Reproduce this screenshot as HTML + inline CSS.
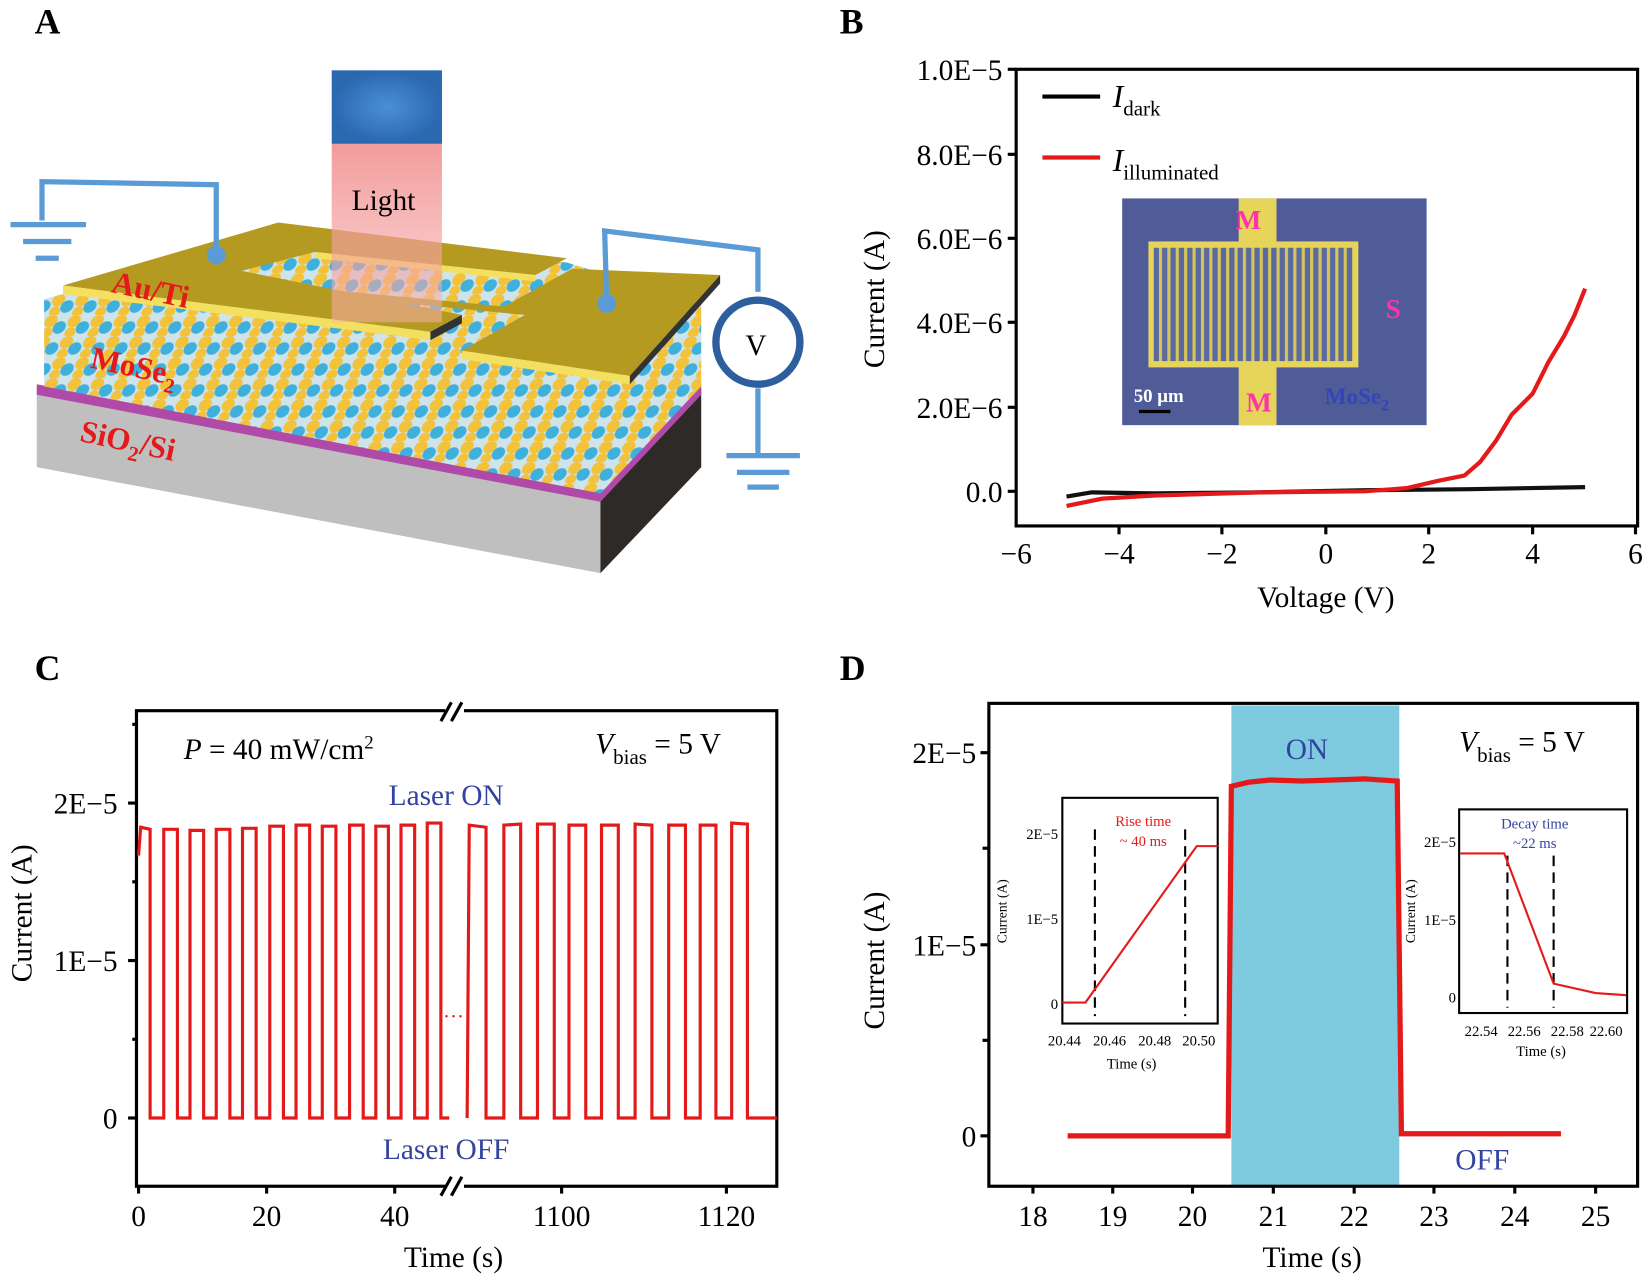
<!DOCTYPE html>
<html><head><meta charset="utf-8"><style>
body{margin:0;background:#fff}
svg{display:block}
text{font-family:"Liberation Serif",serif}
</style></head><body>
<svg width="1646" height="1276" viewBox="0 0 1568 1215.5" preserveAspectRatio="none" xmlns="http://www.w3.org/2000/svg">
<defs>
<pattern id="atoms" width="22" height="20" patternUnits="userSpaceOnUse" patternTransform="skewX(-20)">
<rect width="22" height="20" fill="#cfe3ea"/>
<circle cx="6" cy="6" r="6" fill="#f2c23a"/>
<circle cx="16" cy="12" r="6" fill="#3fb0dc"/>
<circle cx="6" cy="17" r="5" fill="#f2c23a"/>
</pattern>
<pattern id="comb" width="8" height="10" patternUnits="userSpaceOnUse">
<rect width="8" height="10" fill="#5a6aa0"/>
<rect x="0" width="3" height="10" fill="#d6c55a"/>
</pattern>
<linearGradient id="beam" x1="0" y1="0" x2="0" y2="1">
<stop offset="0" stop-color="#f08a8a"/><stop offset="1" stop-color="#f8b0b0" stop-opacity="0.6"/>
</linearGradient>
<radialGradient id="lamp"><stop offset="0" stop-color="#4a90d6"/><stop offset="1" stop-color="#2a68b0"/></radialGradient>
</defs>

<g font-weight="bold" font-size="34">
<text x="33" y="32">A</text><text x="800" y="32">B</text>
<text x="33" y="648">C</text><text x="800" y="648">D</text>
</g>

<!-- Panel A -->
<polygon points="35,372 35,445 572,546 572,470" fill="#bfbfbf"/>
<polygon points="572,470 572,546 668,445 668,370" fill="#2e2a28"/>
<polygon points="35,366 35,376 572,478 668,376 668,366 572,466" fill="#b04aa8"/>
<polygon points="42,285 42,368 572,470 668,368 668,290 540,250 260,225" fill="url(#atoms)"/>
<polygon points="60,272 265,212 540,246 510,262 300,240 230,258 440,300 410,316" fill="#b59a22"/>
<polygon points="60,272 60,280 410,324 410,316" fill="#f4e060"/>
<polygon points="410,316 410,324 440,308 440,300" fill="#333"/>
<polygon points="300,240 510,262 510,268 300,246" fill="#f4e060"/>
<polygon points="250,270 480,292 545,256 686,262 600,358 440,334 500,300 270,278" fill="#b59a22"/>
<polygon points="440,334 600,358 600,366 440,342" fill="#f4e060"/>
<polygon points="600,358 686,262 686,270 600,366" fill="#333"/>
<rect x="316" y="137" width="105" height="170" fill="url(#beam)" opacity="0.85"/>
<rect x="316" y="67" width="105" height="70" fill="url(#lamp)"/>
<text x="335" y="200" font-size="28">Light</text>
<g stroke="#5b9bd5" stroke-width="5" fill="none">
<polyline points="40,210 40,173 206,176 206,243"/>
<line x1="10" y1="214" x2="82" y2="214"/><line x1="22" y1="230" x2="68" y2="230"/><line x1="34" y1="246" x2="56" y2="246"/>
<polyline points="578,289 576,220 722,238 722,278"/>
<line x1="722" y1="370" x2="722" y2="432"/>
<line x1="692" y1="434" x2="762" y2="434"/><line x1="702" y1="450" x2="752" y2="450"/><line x1="712" y1="464" x2="742" y2="464"/>
</g>
<circle cx="206" cy="243" r="9" fill="#5b9bd5"/><circle cx="578" cy="289" r="9" fill="#5b9bd5"/>
<circle cx="722" cy="326" r="40" fill="#fff" stroke="#2d5e9e" stroke-width="7"/>
<text x="710" y="338" font-size="28">V</text>
<g fill="#e41a1a" font-weight="bold" font-size="30">
<text x="105" y="278" transform="rotate(12 105 278)">Au/Ti</text>
<text x="85" y="350" transform="rotate(12 85 350)">MoSe<tspan font-size="20" dy="8">2</tspan></text>
<text x="75" y="420" transform="rotate(12 75 420)">SiO<tspan font-size="20" dy="8">2</tspan><tspan dy="-8">/Si</tspan></text>
</g>

<!-- Panel B -->
<g stroke="#000" stroke-width="3" fill="none">
<rect x="968" y="66" width="592" height="435"/>
<line x1="968" y1="66" x2="960" y2="66"/><line x1="968" y1="147" x2="960" y2="147"/><line x1="968" y1="227" x2="960" y2="227"/><line x1="968" y1="307" x2="960" y2="307"/><line x1="968" y1="388" x2="960" y2="388"/><line x1="968" y1="468" x2="960" y2="468"/>
<line x1="1066" y1="501" x2="1066" y2="509"/><line x1="1164" y1="501" x2="1164" y2="509"/><line x1="1263" y1="501" x2="1263" y2="509"/><line x1="1361" y1="501" x2="1361" y2="509"/><line x1="1460" y1="501" x2="1460" y2="509"/><line x1="1558" y1="501" x2="1558" y2="509"/>
</g>
<g font-size="28" text-anchor="end">
<text x="955" y="76">1.0E−5</text><text x="955" y="157">8.0E−6</text><text x="955" y="237">6.0E−6</text><text x="955" y="317">4.0E−6</text><text x="955" y="398">2.0E−6</text><text x="955" y="478">0.0</text>
</g>
<g font-size="28" text-anchor="middle">
<text x="968" y="537">−6</text><text x="1066" y="537">−4</text><text x="1164" y="537">−2</text><text x="1263" y="537">0</text><text x="1361" y="537">2</text><text x="1460" y="537">4</text><text x="1558" y="537">6</text>
<text x="1263" y="578">Voltage (V)</text>
</g>
<text x="842" y="285" font-size="28" text-anchor="middle" transform="rotate(-90 842 285)">Current (A)</text>
<line x1="993" y1="92" x2="1048" y2="92" stroke="#000" stroke-width="4"/>
<line x1="993" y1="150" x2="1048" y2="150" stroke="#e41a1a" stroke-width="4"/>
<text x="1060" y="102" font-size="30" font-style="italic">I<tspan font-style="normal" font-size="20" dy="8">dark</tspan></text>
<text x="1060" y="163" font-size="30" font-style="italic">I<tspan font-style="normal" font-size="20" dy="8">illuminated</tspan></text>
<rect x="1069" y="189" width="290" height="216" fill="#4f5c98"/>
<rect x="1180" y="189" width="36" height="216" fill="#e7d45a"/>
<rect x="1094" y="230" width="200" height="120" fill="#e7d45a"/>
<rect x="1099" y="236" width="190" height="108" fill="url(#comb)"/>
<g fill="#ff33aa" font-weight="bold" font-size="26"><text x="1177" y="218">M</text><text x="1187" y="392">M</text><text x="1320" y="303">S</text></g>
<text x="1080" y="383" fill="#fff" font-family="Liberation Sans" font-weight="bold" font-size="18">50 μm</text>
<line x1="1085" y1="392" x2="1115" y2="392" stroke="#000" stroke-width="3"/>
<text x="1262" y="385" fill="#3344bb" font-weight="bold" font-size="22">MoSe<tspan font-size="15" dy="6">2</tspan></text>
<polyline points="1016,473 1040,469 1100,470 1200,469 1300,467 1400,466 1510,464" stroke="#111" stroke-width="4" fill="none"/>
<polyline points="1016,482 1050,475 1100,472 1200,469 1300,468 1340,465 1370,458 1395,453 1410,440 1425,420 1440,395 1460,375 1475,345 1490,320 1500,300 1510,275" stroke="#e41a1a" stroke-width="4" fill="none"/>

<!-- Panel C -->
<g stroke="#000" stroke-width="3" fill="none">
<rect x="130" y="677" width="610" height="453"/>
<line x1="130" y1="765" x2="122" y2="765"/><line x1="130" y1="915" x2="122" y2="915"/><line x1="130" y1="1065" x2="122" y2="1065"/>
<line x1="130" y1="690" x2="126" y2="690"/><line x1="130" y1="840" x2="126" y2="840"/><line x1="130" y1="990" x2="126" y2="990"/>
<line x1="132" y1="1130" x2="132" y2="1137"/><line x1="254" y1="1130" x2="254" y2="1137"/><line x1="376" y1="1130" x2="376" y2="1137"/><line x1="535" y1="1130" x2="535" y2="1137"/><line x1="692" y1="1130" x2="692" y2="1137"/>
</g>
<rect x="424" y="670" width="18" height="16" fill="#fff"/><rect x="424" y="1122" width="18" height="16" fill="#fff"/>
<g stroke="#000" stroke-width="3"><line x1="420" y1="687" x2="430" y2="669"/><line x1="430" y1="687" x2="440" y2="669"/><line x1="420" y1="1139" x2="430" y2="1121"/><line x1="430" y1="1139" x2="440" y2="1121"/></g>
<g font-size="28">
<text x="112" y="775" text-anchor="end">2E−5</text><text x="112" y="925" text-anchor="end">1E−5</text><text x="112" y="1075" text-anchor="end">0</text>
<g text-anchor="middle"><text x="132" y="1168">0</text><text x="254" y="1168">20</text><text x="376" y="1168">40</text><text x="535" y="1168">1100</text><text x="692" y="1168">1120</text><text x="432" y="1207">Time (s)</text></g>
<text x="175" y="723"><tspan font-style="italic">P</tspan> = 40 mW/cm<tspan font-size="18" dy="-10">2</tspan></text>
<text x="567" y="718"><tspan font-style="italic">V</tspan><tspan font-size="20" dy="10">bias</tspan><tspan dy="-10"> = 5 V</tspan></text>
<g fill="#3344a0" text-anchor="middle"><text x="425" y="767">Laser ON</text><text x="425" y="1104">Laser OFF</text></g>
</g>
<text x="30" y="870" font-size="28" text-anchor="middle" transform="rotate(-90 30 870)">Current (A)</text>
<text x="432" y="975" font-size="20" fill="#e41a1a" text-anchor="middle">···</text>
<polyline stroke="#e41a1a" stroke-width="3" fill="none" points="132,815 134,788 143,790 143,1065 156,1065 156,790 169,790 169,1065 181,1065 181,791 194,791 194,1065 206,1065 206,790 219,790 219,1065 231,1065 231,789 244,789 244,1065 257,1065 257,787 270,787 270,1065 282,1065 282,786 295,786 295,1065 307,1065 307,787 320,787 320,1065 333,1065 333,786 346,786 346,1065 358,1065 358,787 370,787 370,1065 382,1065 382,786 395,786 395,1065 407,1065 407,784 420,784 420,1065 428,1065"/>
<polyline stroke="#e41a1a" stroke-width="3" fill="none" points="445,1065 447,786 463,788 463,1065 480,1065 480,786 496,785 496,1065 512,1065 512,785 528,785 528,1065 542,1065 542,786 558,786 558,1065 573,1065 573,786 589,786 589,1065 605,1065 605,785 621,786 621,1065 637,1065 637,786 653,786 653,1065 667,1065 667,786 682,786 682,1065 697,1065 697,784 712,785 712,1065 740,1065"/>

<!-- Panel D -->
<rect x="1173" y="672" width="160" height="457" fill="#7ecbe0"/>
<g stroke="#000" stroke-width="3" fill="none">
<rect x="942" y="670" width="618" height="460"/>
<line x1="942" y1="717" x2="934" y2="717"/><line x1="942" y1="900" x2="934" y2="900"/><line x1="942" y1="1082" x2="934" y2="1082"/>
<line x1="942" y1="808" x2="936" y2="808"/><line x1="942" y1="991" x2="936" y2="991"/>
</g>
<g stroke="#000" stroke-width="3">
<line x1="984" y1="1130" x2="984" y2="1137"/><line x1="1060" y1="1130" x2="1060" y2="1137"/><line x1="1136" y1="1130" x2="1136" y2="1137"/><line x1="1213" y1="1130" x2="1213" y2="1137"/><line x1="1290" y1="1130" x2="1290" y2="1137"/><line x1="1366" y1="1130" x2="1366" y2="1137"/><line x1="1443" y1="1130" x2="1443" y2="1137"/><line x1="1520" y1="1130" x2="1520" y2="1137"/>
</g>
<g font-size="28">
<text x="930" y="727" text-anchor="end">2E−5</text><text x="930" y="910" text-anchor="end">1E−5</text><text x="930" y="1092" text-anchor="end">0</text>
<g text-anchor="middle"><text x="984" y="1168">18</text><text x="1060" y="1168">19</text><text x="1136" y="1168">20</text><text x="1213" y="1168">21</text><text x="1290" y="1168">22</text><text x="1366" y="1168">23</text><text x="1443" y="1168">24</text><text x="1520" y="1168">25</text><text x="1250" y="1207">Time (s)</text></g>
<text x="1390" y="716"><tspan font-style="italic">V</tspan><tspan font-size="20" dy="10">bias</tspan><tspan dy="-10"> = 5 V</tspan></text>
<g fill="#3344a0" text-anchor="middle"><text x="1245" y="723">ON</text><text x="1412" y="1114">OFF</text></g>
</g>
<text x="842" y="915" font-size="28" text-anchor="middle" transform="rotate(-90 842 915)">Current (A)</text>
<polyline stroke="#e41a1a" stroke-width="5" fill="none" points="1017,1082 1170,1082 1173,749 1190,745 1210,743 1240,744 1270,743 1300,742 1331,744 1335,1080 1487,1080"/>
<rect x="1012" y="760" width="148" height="215" fill="#fff" stroke="#000" stroke-width="2"/>
<g font-size="14" text-anchor="end"><text x="1008" y="799">2E−5</text><text x="1008" y="880">1E−5</text><text x="1008" y="961">0</text></g>
<g font-size="14" text-anchor="middle"><text x="1014" y="996">20.44</text><text x="1057" y="996">20.46</text><text x="1100" y="996">20.48</text><text x="1142" y="996">20.50</text><text x="1078" y="1018">Time (s)</text></g>
<text x="959" y="868" font-size="13" text-anchor="middle" transform="rotate(-90 959 868)">Current (A)</text>
<g fill="#e41a1a" font-size="14" text-anchor="middle"><text x="1089" y="787">Rise time</text><text x="1089" y="806">~ 40 ms</text></g>
<g stroke="#000" stroke-width="2" stroke-dasharray="10,6"><line x1="1043" y1="790" x2="1043" y2="968"/><line x1="1129" y1="790" x2="1129" y2="968"/></g>
<polyline stroke="#e41a1a" stroke-width="2" fill="none" points="1012,955 1034,955 1140,806 1160,806"/>
<rect x="1390" y="771" width="160" height="194" fill="#fff" stroke="#000" stroke-width="2"/>
<g font-size="14" text-anchor="end"><text x="1387" y="807">2E−5</text><text x="1387" y="881">1E−5</text><text x="1387" y="955">0</text></g>
<g font-size="14" text-anchor="middle"><text x="1411" y="987">22.54</text><text x="1452" y="987">22.56</text><text x="1493" y="987">22.58</text><text x="1530" y="987">22.60</text><text x="1468" y="1006">Time (s)</text></g>
<text x="1348" y="868" font-size="13" text-anchor="middle" transform="rotate(-90 1348 868)">Current (A)</text>
<g fill="#3344a0" font-size="14" text-anchor="middle"><text x="1462" y="789">Decay time</text><text x="1462" y="808">~22 ms</text></g>
<g stroke="#000" stroke-width="2" stroke-dasharray="10,6"><line x1="1436" y1="815" x2="1436" y2="960"/><line x1="1480" y1="815" x2="1480" y2="960"/></g>
<polyline stroke="#e41a1a" stroke-width="2" fill="none" points="1391,813 1433,813 1480,937 1520,946 1549,948"/>
</svg>
</body></html>
